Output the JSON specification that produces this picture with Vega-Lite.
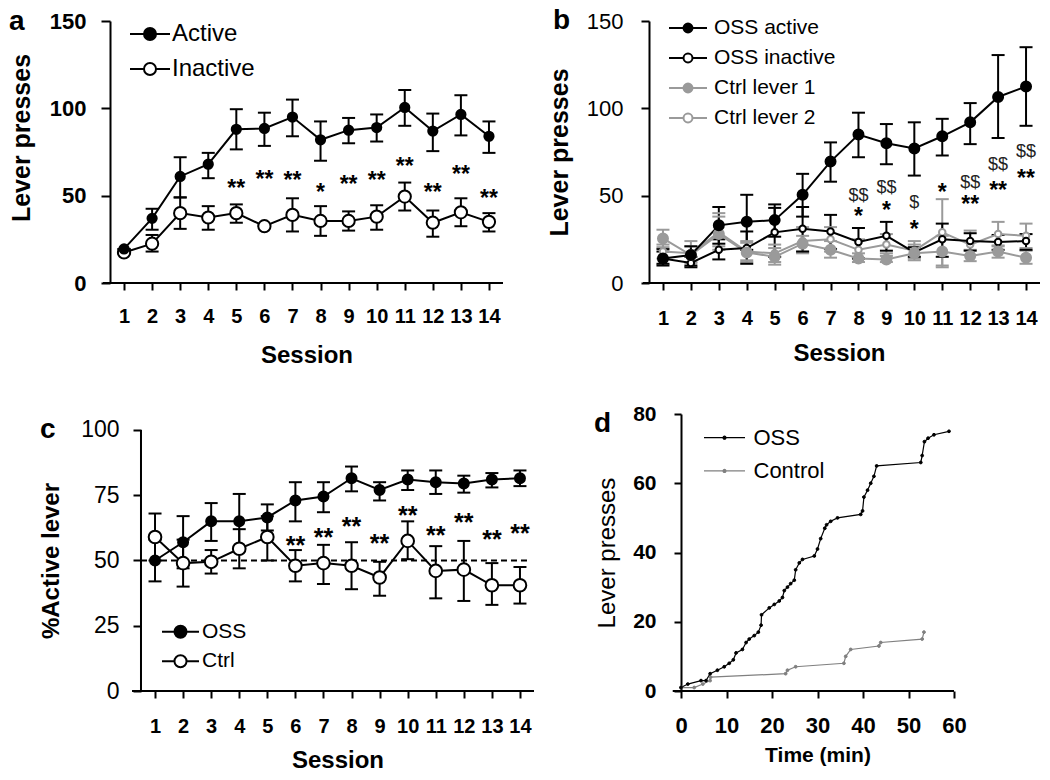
{
"$schema":"https://vega.github.io/schema/vega-lite/v6.json",
"padding":{"left":8,"top":7,"right":0,"bottom":0},
"background":"white",
"config":{"font":"Liberation Sans","view":{"stroke":null},"axis":{"domainColor":"black","domainWidth":2,"tickColor":"black","tickWidth":2,"labelColor":"black","titleColor":"black","grid":false,"labelFlush":false,"labelOverlap":false}},
"resolve":{"scale":{"fill":"independent","stroke":"independent"},"legend":{"fill":"independent","stroke":"independent"}},
"datasets":{
"aData":[
{"s":1,"series":"Inactive","m":17.5,"lo":17.5,"hi":17.5},{"s":2,"series":"Inactive","m":22.5,"lo":18,"hi":27.5},{"s":3,"series":"Inactive","m":40,"lo":31,"hi":49},{"s":4,"series":"Inactive","m":37.5,"lo":30.5,"hi":44},{"s":5,"series":"Inactive","m":40,"lo":34.5,"hi":45},{"s":6,"series":"Inactive","m":32.5,"lo":32.5,"hi":32.5},{"s":7,"series":"Inactive","m":39,"lo":29.5,"hi":48.5},{"s":8,"series":"Inactive","m":35.5,"lo":27,"hi":44},{"s":9,"series":"Inactive","m":35.5,"lo":30,"hi":41},{"s":10,"series":"Inactive","m":38,"lo":30.5,"hi":44.5},{"s":11,"series":"Inactive","m":49.5,"lo":41.5,"hi":57.5},{"s":12,"series":"Inactive","m":34.5,"lo":26.5,"hi":41.5},{"s":13,"series":"Inactive","m":40.5,"lo":32.5,"hi":48.5},{"s":14,"series":"Inactive","m":35,"lo":29.5,"hi":40},
{"s":1,"series":"Active","m":19.5,"lo":19.5,"hi":19.5},{"s":2,"series":"Active","m":37,"lo":30.5,"hi":42.5},{"s":3,"series":"Active","m":61,"lo":49,"hi":72},{"s":4,"series":"Active","m":68,"lo":60,"hi":74.5},{"s":5,"series":"Active","m":88,"lo":76.5,"hi":99.5},{"s":6,"series":"Active","m":88.5,"lo":78.5,"hi":97.5},{"s":7,"series":"Active","m":95,"lo":84,"hi":105},{"s":8,"series":"Active","m":82,"lo":70,"hi":92.5},{"s":9,"series":"Active","m":87.5,"lo":80,"hi":94.5},{"s":10,"series":"Active","m":89,"lo":81,"hi":96.5},{"s":11,"series":"Active","m":100.5,"lo":90,"hi":110.5},{"s":12,"series":"Active","m":87,"lo":75.5,"hi":97},{"s":13,"series":"Active","m":96.5,"lo":84.5,"hi":107.5},{"s":14,"series":"Active","m":84,"lo":74.5,"hi":92.5}
],
"aStars":[
{"s":5,"t":"**","v":57},{"s":6,"t":"**","v":62.5},{"s":7,"t":"**","v":62},{"s":8,"t":"*","v":55},{"s":9,"t":"**","v":59.5},{"s":10,"t":"**","v":62},{"s":11,"t":"**","v":70},{"s":12,"t":"**","v":55},{"s":13,"t":"**","v":65.5},{"s":14,"t":"**","v":51.5}
],
"bData":[
{"s":1,"series":"Ctrl lever 2","m":18,"lo":14,"hi":22},{"s":2,"series":"Ctrl lever 2","m":17,"lo":12,"hi":24},{"s":3,"series":"Ctrl lever 2","m":29,"lo":21,"hi":38},{"s":4,"series":"Ctrl lever 2","m":18,"lo":13,"hi":24},{"s":5,"series":"Ctrl lever 2","m":17,"lo":12,"hi":22},{"s":6,"series":"Ctrl lever 2","m":24,"lo":17,"hi":32},{"s":7,"series":"Ctrl lever 2","m":25,"lo":18,"hi":32},{"s":8,"series":"Ctrl lever 2","m":19,"lo":14,"hi":25},{"s":9,"series":"Ctrl lever 2","m":22,"lo":17,"hi":28},{"s":10,"series":"Ctrl lever 2","m":18.5,"lo":14,"hi":24},{"s":11,"series":"Ctrl lever 2","m":29,"lo":10,"hi":48},{"s":12,"series":"Ctrl lever 2","m":22,"lo":16,"hi":30},{"s":13,"series":"Ctrl lever 2","m":28,"lo":21,"hi":35},{"s":14,"series":"Ctrl lever 2","m":27,"lo":20,"hi":34},
{"s":1,"series":"Ctrl lever 1","m":25.5,"lo":20.5,"hi":30.5},{"s":2,"series":"Ctrl lever 1","m":16,"lo":11.5,"hi":21},{"s":3,"series":"Ctrl lever 1","m":28,"lo":19,"hi":40},{"s":4,"series":"Ctrl lever 1","m":17.5,"lo":12,"hi":23},{"s":5,"series":"Ctrl lever 1","m":15,"lo":10.5,"hi":20},{"s":6,"series":"Ctrl lever 1","m":22.5,"lo":18,"hi":27},{"s":7,"series":"Ctrl lever 1","m":19,"lo":14.5,"hi":24},{"s":8,"series":"Ctrl lever 1","m":14,"lo":12,"hi":17},{"s":9,"series":"Ctrl lever 1","m":13.5,"lo":12,"hi":15.5},{"s":10,"series":"Ctrl lever 1","m":17,"lo":13,"hi":22},{"s":11,"series":"Ctrl lever 1","m":18,"lo":9,"hi":27},{"s":12,"series":"Ctrl lever 1","m":15.5,"lo":12.5,"hi":19},{"s":13,"series":"Ctrl lever 1","m":18,"lo":14.5,"hi":21.5},{"s":14,"series":"Ctrl lever 1","m":14.5,"lo":11,"hi":18.5},
{"s":1,"series":"OSS inactive","m":14,"lo":11,"hi":18},{"s":2,"series":"OSS inactive","m":11.5,"lo":9,"hi":15},{"s":3,"series":"OSS inactive","m":19,"lo":13.5,"hi":25},{"s":4,"series":"OSS inactive","m":20,"lo":11,"hi":29.5},{"s":5,"series":"OSS inactive","m":29,"lo":15,"hi":43},{"s":6,"series":"OSS inactive","m":31,"lo":18,"hi":43.5},{"s":7,"series":"OSS inactive","m":29.5,"lo":19.5,"hi":39},{"s":8,"series":"OSS inactive","m":23.5,"lo":14,"hi":31.5},{"s":9,"series":"OSS inactive","m":27,"lo":18.5,"hi":35},{"s":10,"series":"OSS inactive","m":17.5,"lo":15,"hi":20.5},{"s":11,"series":"OSS inactive","m":25,"lo":15,"hi":34},{"s":12,"series":"OSS inactive","m":24,"lo":18.5,"hi":28.5},{"s":13,"series":"OSS inactive","m":23.5,"lo":19,"hi":27.5},{"s":14,"series":"OSS inactive","m":24,"lo":19,"hi":28},
{"s":1,"series":"OSS active","m":14,"lo":10,"hi":19.5},{"s":2,"series":"OSS active","m":16,"lo":10,"hi":21},{"s":3,"series":"OSS active","m":33,"lo":22.5,"hi":43.5},{"s":4,"series":"OSS active","m":35,"lo":19,"hi":50.5},{"s":5,"series":"OSS active","m":36,"lo":26.5,"hi":45},{"s":6,"series":"OSS active","m":50.5,"lo":38,"hi":62.5},{"s":7,"series":"OSS active","m":69.5,"lo":58,"hi":80.5},{"s":8,"series":"OSS active","m":85,"lo":72,"hi":97.5},{"s":9,"series":"OSS active","m":80,"lo":68,"hi":91},{"s":10,"series":"OSS active","m":77,"lo":61.5,"hi":92},{"s":11,"series":"OSS active","m":84,"lo":73,"hi":94},{"s":12,"series":"OSS active","m":92,"lo":79.5,"hi":103},{"s":13,"series":"OSS active","m":106.5,"lo":83,"hi":130.5},{"s":14,"series":"OSS active","m":112.5,"lo":90,"hi":135}
],
"bStars":[
{"s":8,"t":"*","v":41.3},{"s":9,"t":"*","v":45},{"s":10,"t":"*","v":34},{"s":11,"t":"*","v":55},{"s":12,"t":"**","v":48.3},{"s":13,"t":"**","v":56.3},{"s":14,"t":"**","v":62.8}
],
"bDollars":[
{"s":8,"t":"$$","v":50.3},{"s":9,"t":"$$","v":55.3},{"s":10,"t":"$","v":46.8},{"s":12,"t":"$$","v":58.2},{"s":13,"t":"$$","v":68.2},{"s":14,"t":"$$","v":75.7}
],
"cData":[
{"s":1,"series":"Ctrl","m":59,"lo":50,"hi":68},{"s":2,"series":"Ctrl","m":49,"lo":40,"hi":58},{"s":3,"series":"Ctrl","m":49.5,"lo":45,"hi":54},{"s":4,"series":"Ctrl","m":54.5,"lo":47,"hi":62},{"s":5,"series":"Ctrl","m":59,"lo":50,"hi":67},{"s":6,"series":"Ctrl","m":48,"lo":42,"hi":54},{"s":7,"series":"Ctrl","m":49,"lo":41,"hi":56},{"s":8,"series":"Ctrl","m":48,"lo":39,"hi":57},{"s":9,"series":"Ctrl","m":43.5,"lo":36.5,"hi":49.5},{"s":10,"series":"Ctrl","m":57.5,"lo":50.5,"hi":65},{"s":11,"series":"Ctrl","m":46,"lo":35.5,"hi":55.5},{"s":12,"series":"Ctrl","m":46.5,"lo":34.5,"hi":57.5},{"s":13,"series":"Ctrl","m":40.5,"lo":33,"hi":49},{"s":14,"series":"Ctrl","m":40.5,"lo":33.5,"hi":47.5},
{"s":1,"series":"OSS","m":50,"lo":42,"hi":58},{"s":2,"series":"OSS","m":57,"lo":47,"hi":67},{"s":3,"series":"OSS","m":65,"lo":57.5,"hi":72},{"s":4,"series":"OSS","m":65,"lo":54.5,"hi":75.5},{"s":5,"series":"OSS","m":66.5,"lo":61.5,"hi":71.5},{"s":6,"series":"OSS","m":73,"lo":65,"hi":80},{"s":7,"series":"OSS","m":74.5,"lo":68.5,"hi":80},{"s":8,"series":"OSS","m":81.5,"lo":76.5,"hi":86},{"s":9,"series":"OSS","m":77,"lo":73,"hi":80},{"s":10,"series":"OSS","m":81,"lo":77,"hi":84.5},{"s":11,"series":"OSS","m":80,"lo":75.5,"hi":84.5},{"s":12,"series":"OSS","m":79.5,"lo":76,"hi":82.5},{"s":13,"series":"OSS","m":81,"lo":78,"hi":83.5},{"s":14,"series":"OSS","m":81.5,"lo":78.5,"hi":84.5}
],
"cStars":[
{"s":6,"t":"**","v":58},{"s":7,"t":"**","v":61},{"s":8,"t":"**","v":65},{"s":9,"t":"**","v":58.5},{"s":10,"t":"**","v":69.5},{"s":11,"t":"**","v":61.5},{"s":12,"t":"**","v":66.5},{"s":13,"t":"**","v":60},{"s":14,"t":"**","v":62.5}
],
"dData":[
{"t":0,"n":1,"series":"Control"},{"t":2.9,"n":1,"series":"Control"},{"t":4.8,"n":2,"series":"Control"},{"t":6.4,"n":3,"series":"Control"},{"t":6.5,"n":4,"series":"Control"},{"t":23,"n":5,"series":"Control"},{"t":23.4,"n":6,"series":"Control"},{"t":25.2,"n":7,"series":"Control"},{"t":35.8,"n":8,"series":"Control"},{"t":36.2,"n":10,"series":"Control"},{"t":37.3,"n":12,"series":"Control"},{"t":43.5,"n":13,"series":"Control"},{"t":43.9,"n":14,"series":"Control"},{"t":53,"n":15,"series":"Control"},{"t":53.4,"n":17,"series":"Control"},
{"t":0,"n":1,"series":"OSS"},{"t":1.5,"n":2,"series":"OSS"},{"t":4.4,"n":3,"series":"OSS"},{"t":5.5,"n":3,"series":"OSS"},{"t":6.4,"n":5,"series":"OSS"},{"t":8,"n":6,"series":"OSS"},{"t":9.5,"n":7,"series":"OSS"},{"t":10.6,"n":8,"series":"OSS"},{"t":11.5,"n":9,"series":"OSS"},{"t":12.1,"n":11,"series":"OSS"},{"t":13.5,"n":12,"series":"OSS"},{"t":14.3,"n":14,"series":"OSS"},{"t":15,"n":15,"series":"OSS"},{"t":16.1,"n":16,"series":"OSS"},{"t":17,"n":17,"series":"OSS"},{"t":17.6,"n":19,"series":"OSS"},{"t":17.7,"n":22,"series":"OSS"},{"t":19.4,"n":24,"series":"OSS"},{"t":20.5,"n":25,"series":"OSS"},{"t":21.6,"n":26,"series":"OSS"},{"t":22.3,"n":27,"series":"OSS"},{"t":22.7,"n":29,"series":"OSS"},{"t":23.4,"n":30,"series":"OSS"},{"t":24.1,"n":31,"series":"OSS"},{"t":24.9,"n":32,"series":"OSS"},{"t":25.2,"n":35,"series":"OSS"},{"t":26,"n":37,"series":"OSS"},{"t":26.7,"n":38,"series":"OSS"},{"t":29.3,"n":39,"series":"OSS"},{"t":30,"n":41,"series":"OSS"},{"t":30.7,"n":44,"series":"OSS"},{"t":31.6,"n":47,"series":"OSS"},{"t":32,"n":48,"series":"OSS"},{"t":32.9,"n":49,"series":"OSS"},{"t":34.4,"n":50,"series":"OSS"},{"t":39.5,"n":51,"series":"OSS"},{"t":39.9,"n":52,"series":"OSS"},{"t":40.2,"n":56,"series":"OSS"},{"t":41,"n":58,"series":"OSS"},{"t":41.7,"n":60,"series":"OSS"},{"t":42.4,"n":62,"series":"OSS"},{"t":43,"n":65,"series":"OSS"},{"t":52.7,"n":66,"series":"OSS"},{"t":53,"n":68,"series":"OSS"},{"t":53.5,"n":72,"series":"OSS"},{"t":54.3,"n":73,"series":"OSS"},{"t":55.6,"n":74,"series":"OSS"},{"t":58.9,"n":75,"series":"OSS"}
]
},
"concat":[
{"width":393,"height":262,
"layer":[
{"data":{"values":[{}]},"mark":{"type":"rule","color":"black","strokeWidth":2},"encoding":{
"x":{"datum":0.25,"type":"quantitative","scale":{"domain":[0.5,14.5],"nice":false,"zero":false},"axis":{"values":[1,2,3,4,5,6,7,8,9,10,11,12,13,14],"tickCount":30,"format":"d","title":"Session","domain":false,"labelOverlap":false,"labelFontSize":20,"labelFontWeight":"bold","tickSize":7,"labelPadding":16,"titleFontSize":24,"titleFontWeight":"bold","titlePadding":17}},
"x2":{"datum":14.5},
"y":{"datum":0,"type":"quantitative","scale":{"domain":[0,150],"nice":false,"zero":false},"axis":{"values":[0,50,100,150],"format":"d","title":"Lever presses","labelOverlap":false,"labelFontSize":22,"labelFontWeight":"bold","tickSize":9,"labelPadding":15,"titleFontSize":25,"titleFontWeight":"bold","titlePadding":15,"titleY":116.5}}}},
{"data":{"values":[{"label":"a"}]},"mark":{"type":"text","fontSize":28,"fontWeight":"bold","align":"left","baseline":"alphabetic","color":"black"},"encoding":{
"x":{"datum":-3.098,"type":"quantitative","scale":{"domain":[0.5,14.5],"nice":false,"zero":false}},
"y":{"datum":144.85,"type":"quantitative","scale":{"domain":[0,150],"nice":false,"zero":false}},
"text":{"field":"label"}}},
{"data":{"name":"aData"},"mark":{"type":"rule","strokeWidth":2},"encoding":{
"x":{"field":"s","type":"quantitative","scale":{"domain":[0.5,14.5],"nice":false,"zero":false}},
"y":{"field":"lo","type":"quantitative","scale":{"domain":[0,150],"nice":false,"zero":false}},
"y2":{"field":"hi"},
"stroke":{"field":"series","type":"nominal","scale":{"domain":["Active","Inactive"],"range":["black","black"]}}}},
{"data":{"name":"aData"},"mark":{"type":"point","shape":"stroke","size":169,"strokeWidth":2,"opacity":1},"encoding":{
"x":{"field":"s","type":"quantitative","scale":{"domain":[0.5,14.5],"nice":false,"zero":false}},
"y":{"field":"hi","type":"quantitative","scale":{"domain":[0,150],"nice":false,"zero":false}},
"stroke":{"field":"series","type":"nominal","scale":{"domain":["Active","Inactive"],"range":["black","black"]}}}},
{"data":{"name":"aData"},"mark":{"type":"point","shape":"stroke","size":169,"strokeWidth":2,"opacity":1},"encoding":{
"x":{"field":"s","type":"quantitative","scale":{"domain":[0.5,14.5],"nice":false,"zero":false}},
"y":{"field":"lo","type":"quantitative","scale":{"domain":[0,150],"nice":false,"zero":false}},
"stroke":{"field":"series","type":"nominal","scale":{"domain":["Active","Inactive"],"range":["black","black"]}}}},
{"data":{"name":"aData"},"mark":{"type":"line","strokeWidth":2},"encoding":{
"x":{"field":"s","type":"quantitative","scale":{"domain":[0.5,14.5],"nice":false,"zero":false}},
"y":{"field":"m","type":"quantitative","scale":{"domain":[0,150],"nice":false,"zero":false}},
"stroke":{"field":"series","type":"nominal","scale":{"domain":["Active","Inactive"],"range":["black","black"]}}}},
{"data":{"name":"aData"},"transform":[{"filter":{"field":"series","equal":"Inactive"}}],"mark":{"type":"point","size":150,"strokeWidth":2,"opacity":1},"encoding":{
"x":{"field":"s","type":"quantitative","scale":{"domain":[0.5,14.5],"nice":false,"zero":false}},
"y":{"field":"m","type":"quantitative","scale":{"domain":[0,150],"nice":false,"zero":false}},
"fill":{"field":"series","type":"nominal","scale":{"domain":["Active","Inactive"],"range":["black","white"]},"legend":{"title":null,"orient":"none","legendX":24,"legendY":-3,"symbolType":"M-1.333,0H-0.4M0.4,0H1.333M0.4,0A0.4,0.4,0,1,1,-0.4,0A0.4,0.4,0,1,1,0.4,0Z","symbolSize":900,"symbolStrokeWidth":2,"labelFontSize":24,"labelOffset":6,"rowPadding":7,"padding":0,"labelColor":"black"}},
"stroke":{"field":"series","type":"nominal","scale":{"domain":["Active","Inactive"],"range":["black","black"]},"legend":{"title":null,"orient":"none","legendX":24,"legendY":-3,"symbolType":"M-1.333,0H-0.4M0.4,0H1.333M0.4,0A0.4,0.4,0,1,1,-0.4,0A0.4,0.4,0,1,1,0.4,0Z","symbolSize":900,"symbolStrokeWidth":2,"labelFontSize":24,"labelOffset":6,"rowPadding":7,"padding":0,"labelColor":"black"}}}},
{"data":{"name":"aData"},"transform":[{"filter":{"field":"series","equal":"Active"}}],"mark":{"type":"point","size":85,"strokeWidth":2,"opacity":1},"encoding":{
"x":{"field":"s","type":"quantitative","scale":{"domain":[0.5,14.5],"nice":false,"zero":false}},
"y":{"field":"m","type":"quantitative","scale":{"domain":[0,150],"nice":false,"zero":false}},
"fill":{"field":"series","type":"nominal","scale":{"domain":["Active","Inactive"],"range":["black","white"]},"legend":{"title":null,"orient":"none","legendX":24,"legendY":-3,"symbolType":"M-1.333,0H-0.4M0.4,0H1.333M0.4,0A0.4,0.4,0,1,1,-0.4,0A0.4,0.4,0,1,1,0.4,0Z","symbolSize":900,"symbolStrokeWidth":2,"labelFontSize":24,"labelOffset":6,"rowPadding":7,"padding":0,"labelColor":"black"}},
"stroke":{"field":"series","type":"nominal","scale":{"domain":["Active","Inactive"],"range":["black","black"]},"legend":{"title":null,"orient":"none","legendX":24,"legendY":-3,"symbolType":"M-1.333,0H-0.4M0.4,0H1.333M0.4,0A0.4,0.4,0,1,1,-0.4,0A0.4,0.4,0,1,1,0.4,0Z","symbolSize":900,"symbolStrokeWidth":2,"labelFontSize":24,"labelOffset":6,"rowPadding":7,"padding":0,"labelColor":"black"}}}},
{"data":{"name":"aStars"},"mark":{"type":"text","fontSize":23,"fontWeight":"bold","baseline":"alphabetic","dy":13,"color":"black"},"encoding":{
"x":{"field":"s","type":"quantitative","scale":{"domain":[0.5,14.5],"nice":false,"zero":false}},
"y":{"field":"v","type":"quantitative","scale":{"domain":[0,150],"nice":false,"zero":false}},
"text":{"field":"t"}}}
]},
{"width":391,"height":262,
"layer":[
{"data":{"values":[{}]},"mark":{"type":"rule","color":"black","strokeWidth":2},"encoding":{
"x":{"datum":0.285,"type":"quantitative","scale":{"domain":[0.5,14.5],"nice":false,"zero":false},"axis":{"values":[1,2,3,4,5,6,7,8,9,10,11,12,13,14],"tickCount":30,"format":"d","title":"Session","domain":false,"labelOverlap":false,"labelFontSize":20,"labelFontWeight":"bold","tickSize":7,"labelPadding":18,"titleFontSize":24,"titleFontWeight":"bold","titlePadding":13,"titleX":190}},
"x2":{"datum":14.5},
"y":{"datum":0,"type":"quantitative","scale":{"domain":[0,150],"nice":false,"zero":false},"axis":{"values":[0,50,100,150],"format":"d","title":"Lever presses","labelOverlap":false,"labelFontSize":22,"labelFontWeight":"normal","tickSize":8,"labelPadding":18,"titleFontSize":25,"titleFontWeight":"bold","titlePadding":14}}}},
{"data":{"values":[{"label":"b"}]},"mark":{"type":"text","fontSize":28,"fontWeight":"bold","align":"left","baseline":"alphabetic","color":"black"},"encoding":{
"x":{"datum":-2.937,"type":"quantitative","scale":{"domain":[0.5,14.5],"nice":false,"zero":false}},
"y":{"datum":145.4,"type":"quantitative","scale":{"domain":[0,150],"nice":false,"zero":false}},
"text":{"field":"label"}}},
{"data":{"name":"bData"},"mark":{"type":"rule","strokeWidth":2},"encoding":{
"x":{"field":"s","type":"quantitative","scale":{"domain":[0.5,14.5],"nice":false,"zero":false}},
"y":{"field":"lo","type":"quantitative","scale":{"domain":[0,150],"nice":false,"zero":false}},
"y2":{"field":"hi"},
"stroke":{"field":"series","type":"nominal","scale":{"domain":["OSS active","OSS inactive","Ctrl lever 1","Ctrl lever 2"],"range":["black","black","#9a9a9a","#9a9a9a"]}}}},
{"data":{"name":"bData"},"mark":{"type":"point","shape":"stroke","size":169,"strokeWidth":2,"opacity":1},"encoding":{
"x":{"field":"s","type":"quantitative","scale":{"domain":[0.5,14.5],"nice":false,"zero":false}},
"y":{"field":"hi","type":"quantitative","scale":{"domain":[0,150],"nice":false,"zero":false}},
"stroke":{"field":"series","type":"nominal","scale":{"domain":["OSS active","OSS inactive","Ctrl lever 1","Ctrl lever 2"],"range":["black","black","#9a9a9a","#9a9a9a"]}}}},
{"data":{"name":"bData"},"mark":{"type":"point","shape":"stroke","size":169,"strokeWidth":2,"opacity":1},"encoding":{
"x":{"field":"s","type":"quantitative","scale":{"domain":[0.5,14.5],"nice":false,"zero":false}},
"y":{"field":"lo","type":"quantitative","scale":{"domain":[0,150],"nice":false,"zero":false}},
"stroke":{"field":"series","type":"nominal","scale":{"domain":["OSS active","OSS inactive","Ctrl lever 1","Ctrl lever 2"],"range":["black","black","#9a9a9a","#9a9a9a"]}}}},
{"data":{"name":"bData"},"mark":{"type":"line","strokeWidth":2},"encoding":{
"x":{"field":"s","type":"quantitative","scale":{"domain":[0.5,14.5],"nice":false,"zero":false}},
"y":{"field":"m","type":"quantitative","scale":{"domain":[0,150],"nice":false,"zero":false}},
"stroke":{"field":"series","type":"nominal","scale":{"domain":["OSS active","OSS inactive","Ctrl lever 1","Ctrl lever 2"],"range":["black","black","#9a9a9a","#9a9a9a"]}}}},
{"data":{"name":"bData"},"transform":[{"filter":{"field":"series","oneOf":["OSS inactive","Ctrl lever 2"]}}],"mark":{"type":"point","size":42,"strokeWidth":2,"opacity":1},"encoding":{
"x":{"field":"s","type":"quantitative","scale":{"domain":[0.5,14.5],"nice":false,"zero":false}},
"y":{"field":"m","type":"quantitative","scale":{"domain":[0,150],"nice":false,"zero":false}},
"fill":{"field":"series","type":"nominal","scale":{"domain":["OSS active","OSS inactive","Ctrl lever 1","Ctrl lever 2"],"range":["black","white","#9a9a9a","white"]},"legend":{"title":null,"orient":"none","legendX":24,"legendY":-8,"symbolType":"M-1.357,0H-0.32M0.32,0H1.357M0.32,0A0.32,0.32,0,1,1,-0.32,0A0.32,0.32,0,1,1,0.32,0Z","symbolSize":784,"symbolStrokeWidth":2,"labelFontSize":21,"labelOffset":11,"rowPadding":5,"padding":0,"labelColor":"black"}},
"stroke":{"field":"series","type":"nominal","scale":{"domain":["OSS active","OSS inactive","Ctrl lever 1","Ctrl lever 2"],"range":["black","black","#9a9a9a","#9a9a9a"]},"legend":{"title":null,"orient":"none","legendX":24,"legendY":-8,"symbolType":"M-1.357,0H-0.32M0.32,0H1.357M0.32,0A0.32,0.32,0,1,1,-0.32,0A0.32,0.32,0,1,1,0.32,0Z","symbolSize":784,"symbolStrokeWidth":2,"labelFontSize":21,"labelOffset":11,"rowPadding":5,"padding":0,"labelColor":"black"}}}},
{"data":{"name":"bData"},"transform":[{"filter":{"field":"series","oneOf":["Ctrl lever 1","OSS active"]}}],"mark":{"type":"point","size":100,"strokeWidth":2,"opacity":1},"encoding":{
"x":{"field":"s","type":"quantitative","scale":{"domain":[0.5,14.5],"nice":false,"zero":false}},
"y":{"field":"m","type":"quantitative","scale":{"domain":[0,150],"nice":false,"zero":false}},
"fill":{"field":"series","type":"nominal","scale":{"domain":["OSS active","OSS inactive","Ctrl lever 1","Ctrl lever 2"],"range":["black","white","#9a9a9a","white"]},"legend":{"title":null,"orient":"none","legendX":24,"legendY":-8,"symbolType":"M-1.357,0H-0.32M0.32,0H1.357M0.32,0A0.32,0.32,0,1,1,-0.32,0A0.32,0.32,0,1,1,0.32,0Z","symbolSize":784,"symbolStrokeWidth":2,"labelFontSize":21,"labelOffset":11,"rowPadding":5,"padding":0,"labelColor":"black"}},
"stroke":{"field":"series","type":"nominal","scale":{"domain":["OSS active","OSS inactive","Ctrl lever 1","Ctrl lever 2"],"range":["black","black","#9a9a9a","#9a9a9a"]},"legend":{"title":null,"orient":"none","legendX":24,"legendY":-8,"symbolType":"M-1.357,0H-0.32M0.32,0H1.357M0.32,0A0.32,0.32,0,1,1,-0.32,0A0.32,0.32,0,1,1,0.32,0Z","symbolSize":784,"symbolStrokeWidth":2,"labelFontSize":21,"labelOffset":11,"rowPadding":5,"padding":0,"labelColor":"black"}}}},
{"data":{"name":"bDollars"},"mark":{"type":"text","fontSize":18,"baseline":"alphabetic","dy":6.3,"color":"#222222"},"encoding":{
"x":{"field":"s","type":"quantitative","scale":{"domain":[0.5,14.5],"nice":false,"zero":false}},
"y":{"field":"v","type":"quantitative","scale":{"domain":[0,150],"nice":false,"zero":false}},
"text":{"field":"t"}}},
{"data":{"name":"bStars"},"mark":{"type":"text","fontSize":23,"fontWeight":"bold","baseline":"alphabetic","dy":13.1,"color":"black"},"encoding":{
"x":{"field":"s","type":"quantitative","scale":{"domain":[0.5,14.5],"nice":false,"zero":false}},
"y":{"field":"v","type":"quantitative","scale":{"domain":[0,150],"nice":false,"zero":false}},
"text":{"field":"t"}}}
]},
{"width":424,"height":277,
"layer":[
{"data":{"values":[{}]},"mark":{"type":"rule","color":"black","strokeWidth":2},"encoding":{
"x":{"datum":0.18,"type":"quantitative","scale":{"domain":[-0.604,14.5],"nice":false,"zero":false},"axis":{"values":[1,2,3,4,5,6,7,8,9,10,11,12,13,14],"tickCount":30,"format":"d","title":"Session","domain":false,"labelOverlap":false,"labelFontSize":20,"labelFontWeight":"bold","tickSize":7,"labelPadding":18,"titleFontSize":24,"titleFontWeight":"bold","titlePadding":12,"titleX":227.5}},
"x2":{"datum":14.5},
"y":{"datum":0,"type":"quantitative","scale":{"domain":[0,106.13],"nice":false,"zero":false},"axis":{"values":[0,25,50,75,100],"format":"d","title":"%Active lever","domain":false,"labelOverlap":false,"offset":-31,"labelFontSize":23,"labelFontWeight":"normal","tickSize":8,"labelPadding":14,"titleFontSize":24,"titleFontWeight":"bold","titlePadding":17,"titleY":146.5}}}},
{"data":{"values":[{"label":"c"}]},"mark":{"type":"text","fontSize":28,"fontWeight":"bold","align":"left","baseline":"alphabetic","color":"black"},"encoding":{
"x":{"datum":-3.098,"type":"quantitative","scale":{"domain":[-0.604,14.5],"nice":false,"zero":false}},
"y":{"datum":96.93,"type":"quantitative","scale":{"domain":[0,106.13],"nice":false,"zero":false}},
"text":{"field":"label"}}},
{"data":{"values":[{}]},"mark":{"type":"rule","color":"black","strokeWidth":2},"encoding":{
"x":{"datum":0.5,"type":"quantitative","scale":{"domain":[-0.604,14.5],"nice":false,"zero":false}},
"y":{"datum":0,"type":"quantitative","scale":{"domain":[0,106.13],"nice":false,"zero":false}},
"y2":{"datum":100}}},
{"data":{"values":[{}]},"mark":{"type":"rule","color":"black","strokeWidth":2,"strokeDash":[6,4]},"encoding":{
"x":{"datum":0.5,"type":"quantitative","scale":{"domain":[-0.604,14.5],"nice":false,"zero":false}},
"x2":{"datum":14.35},
"y":{"datum":50,"type":"quantitative","scale":{"domain":[0,106.13],"nice":false,"zero":false}}}},
{"data":{"name":"cData"},"mark":{"type":"rule","strokeWidth":2},"encoding":{
"x":{"field":"s","type":"quantitative","scale":{"domain":[-0.604,14.5],"nice":false,"zero":false}},
"y":{"field":"lo","type":"quantitative","scale":{"domain":[0,106.13],"nice":false,"zero":false}},
"y2":{"field":"hi"},
"stroke":{"field":"series","type":"nominal","scale":{"domain":["OSS","Ctrl"],"range":["black","black"]}}}},
{"data":{"name":"cData"},"mark":{"type":"point","shape":"stroke","size":169,"strokeWidth":2,"opacity":1},"encoding":{
"x":{"field":"s","type":"quantitative","scale":{"domain":[-0.604,14.5],"nice":false,"zero":false}},
"y":{"field":"hi","type":"quantitative","scale":{"domain":[0,106.13],"nice":false,"zero":false}},
"stroke":{"field":"series","type":"nominal","scale":{"domain":["OSS","Ctrl"],"range":["black","black"]}}}},
{"data":{"name":"cData"},"mark":{"type":"point","shape":"stroke","size":169,"strokeWidth":2,"opacity":1},"encoding":{
"x":{"field":"s","type":"quantitative","scale":{"domain":[-0.604,14.5],"nice":false,"zero":false}},
"y":{"field":"lo","type":"quantitative","scale":{"domain":[0,106.13],"nice":false,"zero":false}},
"stroke":{"field":"series","type":"nominal","scale":{"domain":["OSS","Ctrl"],"range":["black","black"]}}}},
{"data":{"name":"cData"},"mark":{"type":"line","strokeWidth":2},"encoding":{
"x":{"field":"s","type":"quantitative","scale":{"domain":[-0.604,14.5],"nice":false,"zero":false}},
"y":{"field":"m","type":"quantitative","scale":{"domain":[0,106.13],"nice":false,"zero":false}},
"stroke":{"field":"series","type":"nominal","scale":{"domain":["OSS","Ctrl"],"range":["black","black"]}}}},
{"data":{"name":"cData"},"transform":[{"filter":{"field":"series","equal":"Ctrl"}}],"mark":{"type":"point","size":160,"strokeWidth":2,"opacity":1},"encoding":{
"x":{"field":"s","type":"quantitative","scale":{"domain":[-0.604,14.5],"nice":false,"zero":false}},
"y":{"field":"m","type":"quantitative","scale":{"domain":[0,106.13],"nice":false,"zero":false}},
"fill":{"field":"series","type":"nominal","scale":{"domain":["OSS","Ctrl"],"range":["black","white"]},"legend":{"title":null,"orient":"none","legendX":55.5,"legendY":202.7,"symbolType":"M-1.32,0H-0.43M0.43,0H1.32M0.43,0A0.43,0.43,0,1,1,-0.43,0A0.43,0.43,0,1,1,0.43,0Z","symbolSize":784,"symbolStrokeWidth":2,"labelFontSize":21,"labelOffset":6.5,"rowPadding":3.6,"padding":0,"labelColor":"black"}},
"stroke":{"field":"series","type":"nominal","scale":{"domain":["OSS","Ctrl"],"range":["black","black"]},"legend":{"title":null,"orient":"none","legendX":55.5,"legendY":202.7,"symbolType":"M-1.32,0H-0.43M0.43,0H1.32M0.43,0A0.43,0.43,0,1,1,-0.43,0A0.43,0.43,0,1,1,0.43,0Z","symbolSize":784,"symbolStrokeWidth":2,"labelFontSize":21,"labelOffset":6.5,"rowPadding":3.6,"padding":0,"labelColor":"black"}}}},
{"data":{"name":"cData"},"transform":[{"filter":{"field":"series","equal":"OSS"}}],"mark":{"type":"point","size":100,"strokeWidth":2,"opacity":1},"encoding":{
"x":{"field":"s","type":"quantitative","scale":{"domain":[-0.604,14.5],"nice":false,"zero":false}},
"y":{"field":"m","type":"quantitative","scale":{"domain":[0,106.13],"nice":false,"zero":false}},
"fill":{"field":"series","type":"nominal","scale":{"domain":["OSS","Ctrl"],"range":["black","white"]},"legend":{"title":null,"orient":"none","legendX":55.5,"legendY":202.7,"symbolType":"M-1.32,0H-0.43M0.43,0H1.32M0.43,0A0.43,0.43,0,1,1,-0.43,0A0.43,0.43,0,1,1,0.43,0Z","symbolSize":784,"symbolStrokeWidth":2,"labelFontSize":21,"labelOffset":6.5,"rowPadding":3.6,"padding":0,"labelColor":"black"}},
"stroke":{"field":"series","type":"nominal","scale":{"domain":["OSS","Ctrl"],"range":["black","black"]},"legend":{"title":null,"orient":"none","legendX":55.5,"legendY":202.7,"symbolType":"M-1.32,0H-0.43M0.43,0H1.32M0.43,0A0.43,0.43,0,1,1,-0.43,0A0.43,0.43,0,1,1,0.43,0Z","symbolSize":784,"symbolStrokeWidth":2,"labelFontSize":21,"labelOffset":6.5,"rowPadding":3.6,"padding":0,"labelColor":"black"}}}},
{"data":{"name":"cStars"},"mark":{"type":"text","fontSize":25,"fontWeight":"bold","baseline":"alphabetic","dy":14,"color":"black"},"encoding":{
"x":{"field":"s","type":"quantitative","scale":{"domain":[-0.604,14.5],"nice":false,"zero":false}},
"y":{"field":"v","type":"quantitative","scale":{"domain":[0,106.13],"nice":false,"zero":false}},
"text":{"field":"t"}}}
]},
{"width":305,"height":277,
"layer":[
{"data":{"values":[{}]},"mark":{"type":"rule","color":"black","strokeWidth":2},"encoding":{
"x":{"datum":-1.82,"type":"quantitative","scale":{"domain":[-7.033,60],"nice":false,"zero":false},"axis":{"values":[0,10,20,30,40,50,60],"tickCount":30,"format":"d","title":"Time (min)","domain":false,"labelOverlap":false,"labelFontSize":22,"labelFontWeight":"bold","tickSize":7,"labelPadding":17,"titleFontSize":21,"titleFontWeight":"bold","titlePadding":8,"titleX":168.5}},
"x2":{"datum":60},
"y":{"datum":0,"type":"quantitative","scale":{"domain":[0,80],"nice":false,"zero":false},"axis":{"values":[0,20,40,60,80],"format":"d","title":"Lever presses","labelOverlap":false,"offset":-32,"labelFontSize":21,"labelFontWeight":"bold","tickSize":7,"labelPadding":18,"titleFontSize":24,"titleFontWeight":"normal","titlePadding":13}}}},
{"data":{"values":[{"label":"d"}]},"mark":{"type":"text","fontSize":28,"fontWeight":"bold","align":"left","baseline":"alphabetic","color":"black"},"encoding":{
"x":{"datum":-19.12,"type":"quantitative","scale":{"domain":[-7.033,60],"nice":false,"zero":false}},
"y":{"datum":74.8,"type":"quantitative","scale":{"domain":[0,80],"nice":false,"zero":false}},
"text":{"field":"label"}}},
{"data":{"name":"dData"},"mark":{"type":"line","strokeWidth":1.2},"encoding":{
"x":{"field":"t","type":"quantitative","scale":{"domain":[-7.033,60],"nice":false,"zero":false}},
"y":{"field":"n","type":"quantitative","scale":{"domain":[0,80],"nice":false,"zero":false}},
"stroke":{"field":"series","type":"nominal","scale":{"domain":["OSS","Control"],"range":["black","#808080"]}}}},
{"data":{"name":"dData"},"mark":{"type":"point","strokeWidth":1,"size":8,"opacity":1},"encoding":{
"x":{"field":"t","type":"quantitative","scale":{"domain":[-7.033,60],"nice":false,"zero":false}},
"y":{"field":"n","type":"quantitative","scale":{"domain":[0,80],"nice":false,"zero":false}},
"fill":{"field":"series","type":"nominal","scale":{"domain":["OSS","Control"],"range":["black","#808080"]},"legend":{"title":null,"orient":"none","legendX":59.5,"legendY":7.7,"symbolType":"M-1.367,0H1.367M0.1,0A0.1,0.1,0,1,1,-0.1,0A0.1,0.1,0,1,1,0.1,0Z","symbolSize":900,"symbolStrokeWidth":1.2,"labelFontSize":22,"labelOffset":13,"rowPadding":6.2,"padding":0,"labelColor":"black"}},
"stroke":{"field":"series","type":"nominal","scale":{"domain":["OSS","Control"],"range":["black","#808080"]},"legend":{"title":null,"orient":"none","legendX":59.5,"legendY":7.7,"symbolType":"M-1.367,0H1.367M0.1,0A0.1,0.1,0,1,1,-0.1,0A0.1,0.1,0,1,1,0.1,0Z","symbolSize":900,"symbolStrokeWidth":1.2,"labelFontSize":22,"labelOffset":13,"rowPadding":6.2,"padding":0,"labelColor":"black"}}}}
]}
],
"columns":2,
"spacing":{"row":131,"column":115},
"bounds":"flush",
"align":"each"
}
